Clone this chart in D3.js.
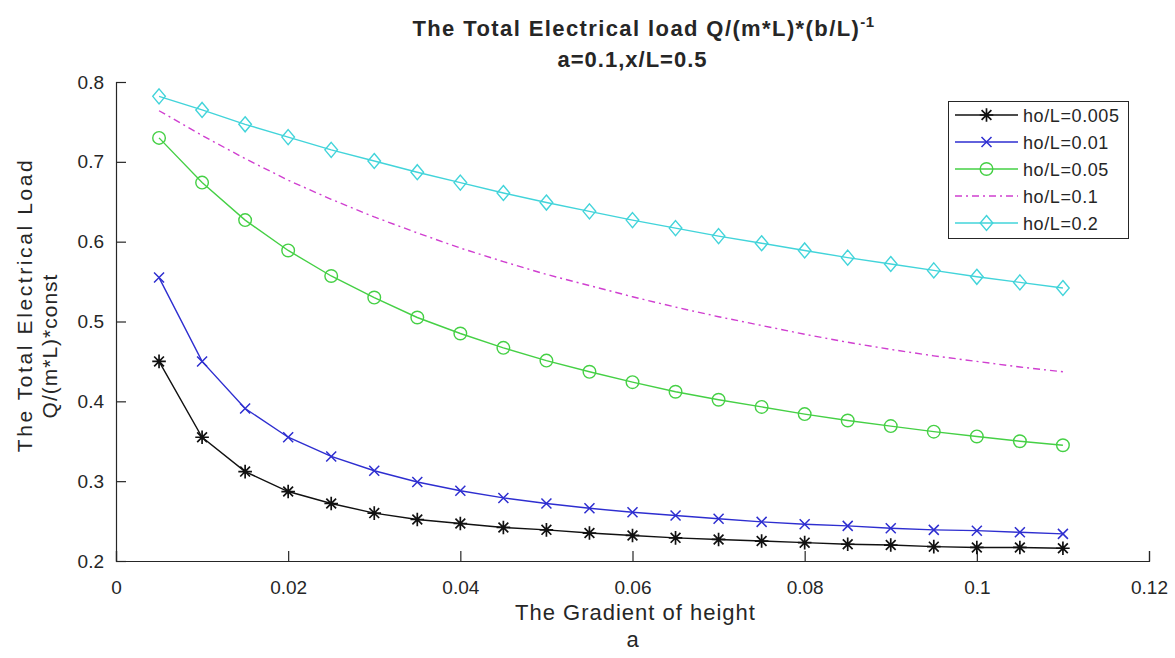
<!DOCTYPE html>
<html>
<head>
<meta charset="utf-8">
<script src="https://cdn.jsdelivr.net/npm/d3@7"></script>
<style>
  html, body { margin: 0; padding: 0; background: #fff; }
  svg text { font-family: "Liberation Sans", Arial, sans-serif; fill: #262626; }
</style>
</head>
<body>
<svg id="chart" width="1175" height="658"></svg>
<script>
// Gradient of height (x values shared by every curve)
const gradient = [0.005, 0.010, 0.015, 0.020, 0.025, 0.030, 0.035, 0.040, 0.045, 0.050, 0.055,
                  0.060, 0.065, 0.070, 0.075, 0.080, 0.085, 0.090, 0.095, 0.100, 0.105, 0.110];

// Total electrical load for each ho/L ratio
const load005 = [0.450, 0.355, 0.312, 0.287, 0.272, 0.260, 0.252, 0.247, 0.242, 0.239, 0.235,
                 0.232, 0.229, 0.227, 0.225, 0.223, 0.221, 0.220, 0.218, 0.217, 0.217, 0.216];
const load01  = [0.555, 0.450, 0.391, 0.355, 0.331, 0.313, 0.299, 0.288, 0.279, 0.272, 0.266,
                 0.261, 0.257, 0.253, 0.249, 0.246, 0.244, 0.241, 0.239, 0.238, 0.236, 0.234];
const load05  = [0.730, 0.674, 0.627, 0.589, 0.557, 0.530, 0.505, 0.485, 0.467, 0.451, 0.437,
                 0.424, 0.412, 0.402, 0.393, 0.384, 0.376, 0.369, 0.362, 0.356, 0.350, 0.345];
const load1   = [0.764, 0.733, 0.704, 0.677, 0.653, 0.631, 0.611, 0.592, 0.575, 0.559, 0.545,
                 0.531, 0.518, 0.506, 0.495, 0.484, 0.474, 0.465, 0.457, 0.450, 0.443, 0.437];
const load2   = [0.782, 0.765, 0.747, 0.731, 0.715, 0.701, 0.687, 0.674, 0.661, 0.649, 0.638,
                 0.627, 0.617, 0.607, 0.598, 0.589, 0.580, 0.572, 0.564, 0.556, 0.549, 0.542];

const seriesNames = ["ho/L=0.005", "ho/L=0.01", "ho/L=0.05", "ho/L=0.1", "ho/L=0.2"];
const xTicks = [0, 0.02, 0.04, 0.06, 0.08, 0.1, 0.12];
const yTicks = [0.2, 0.3, 0.4, 0.5, 0.6, 0.7, 0.8];

const series = [
  { name: seriesNames[0], values: load005, color: "#111111", marker: "star",    dash: null },
  { name: seriesNames[1], values: load01,  color: "#2e2ed0", marker: "cross",   dash: null },
  { name: seriesNames[2], values: load05,  color: "#45d045", marker: "circle",  dash: null },
  { name: seriesNames[3], values: load1,   color: "#d03fd0", marker: null,      dash: "7,4,2,4" },
  { name: seriesNames[4], values: load2,   color: "#42d4da", marker: "diamond", dash: null }
];

const svg = d3.select("#chart");
const plotL = 116, plotR = 1149, plotT = 82, plotB = 561;

const x = d3.scaleLinear().domain([0, 0.12]).range([plotL, plotR]);
const y = d3.scaleLinear().domain([0.2, 0.8]).range([plotB, plotT]);

// Axes (left and bottom only, ticks pointing inward)
const xAxis = d3.axisBottom(x).tickValues(xTicks).tickSize(-10).tickPadding(20)
  .tickFormat(d => d === 0 ? "0" : String(+d.toFixed(2)));
const yAxis = d3.axisLeft(y).tickValues(yTicks).tickSize(-10).tickPadding(12)
  .tickFormat(d => d.toFixed(1));

const gx = svg.append("g").attr("transform", `translate(0,${plotB})`).call(xAxis);
const gy = svg.append("g").attr("transform", `translate(${plotL},0)`).call(yAxis);
[gx, gy].forEach(g => {
  g.select(".domain").attr("stroke", "#262626").attr("stroke-width", 1.2);
  g.selectAll(".tick line").attr("stroke", "#262626").attr("stroke-width", 1.2);
  g.selectAll(".tick text").attr("font-size", 19).attr("fill", "#262626")
    .attr("font-family", "Liberation Sans, Arial, sans-serif");
});

// Marker drawing
function drawMarker(g, type, color) {
  if (type === "star") {
    const r = 6.8, d = r * 0.72;
    g.append("path").attr("d", `M${-r},0H${r}M0,${-r}V${r}M${-d},${-d}L${d},${d}M${-d},${d}L${d},${-d}`)
      .attr("stroke", color).attr("stroke-width", 1.7).attr("fill", "none");
  } else if (type === "cross") {
    const r = 5;
    g.append("path").attr("d", `M${-r},${-r}L${r},${r}M${-r},${r}L${r},${-r}`)
      .attr("stroke", color).attr("stroke-width", 1.5).attr("fill", "none");
  } else if (type === "circle") {
    g.append("circle").attr("r", 6.3).attr("stroke", color).attr("stroke-width", 1.4).attr("fill", "none");
  } else if (type === "diamond") {
    g.append("path").attr("d", "M0,-7.5L6.3,0L0,7.5L-6.3,0Z")
      .attr("stroke", color).attr("stroke-width", 1.4).attr("fill", "none");
  }
}

const line = d3.line().x(d => x(d[0])).y(d => y(d[1]));
const plot = svg.append("g");

series.forEach(s => {
  const pts = gradient.map((g, i) => [g, s.values[i]]);
  plot.append("path").datum(pts).attr("d", line)
    .attr("fill", "none").attr("stroke", s.color).attr("stroke-width", 1.4)
    .attr("stroke-dasharray", s.dash);
  if (s.marker) {
    pts.forEach(p => {
      const m = plot.append("g").attr("transform", `translate(${x(p[0])},${y(p[1])})`);
      drawMarker(m, s.marker, s.color);
    });
  }
});

// Title
const title = svg.append("text").attr("x", (plotL + plotR) / 2 + 11).attr("y", 36)
  .attr("text-anchor", "middle").attr("font-size", 22).attr("font-weight", "bold")
  .attr("letter-spacing", 1.4).attr("fill", "#111");
title.append("tspan").text("The Total Electrical load Q/(m*L)*(b/L)");
title.append("tspan").attr("dy", -9).attr("font-size", 15).attr("letter-spacing", 0.5).text("-1");
svg.append("text").attr("x", (plotL + plotR) / 2).attr("y", 67)
  .attr("text-anchor", "middle").attr("font-size", 22).attr("font-weight", "bold")
  .attr("letter-spacing", 1).attr("fill", "#111")
  .text("a=0.1,x/L=0.5");

// Axis labels
svg.append("text").attr("x", (plotL + plotR) / 2 + 3).attr("y", 620)
  .attr("text-anchor", "middle").attr("font-size", 22).attr("letter-spacing", 1)
  .text("The Gradient of height");
svg.append("text").attr("x", (plotL + plotR) / 2).attr("y", 647)
  .attr("text-anchor", "middle").attr("font-size", 22).text("a");

svg.append("text").attr("transform", "translate(32,305) rotate(-90)")
  .attr("text-anchor", "middle").attr("font-size", 21).attr("letter-spacing", 2.6)
  .text("The Total Electrical Load");
svg.append("text").attr("transform", "translate(57,346) rotate(-90)")
  .attr("text-anchor", "middle").attr("font-size", 21).attr("letter-spacing", 1)
  .text("Q/(m*L)*const");

// Legend
const lg = svg.append("g");
lg.append("rect").attr("x", 948.5).attr("y", 101.5).attr("width", 180).attr("height", 137)
  .attr("fill", "#fff").attr("stroke", "#262626").attr("stroke-width", 1);
const rowY = [115, 142, 169, 196, 223];
series.forEach((s, i) => {
  const ry = rowY[i];
  lg.append("line").attr("x1", 955).attr("x2", 1018).attr("y1", ry).attr("y2", ry)
    .attr("stroke", s.color).attr("stroke-width", 1.4).attr("stroke-dasharray", s.dash);
  if (s.marker) {
    const m = lg.append("g").attr("transform", `translate(986.5,${ry})`);
    drawMarker(m, s.marker, s.color);
  }
  lg.append("text").attr("x", 1023).attr("y", ry + 6.5).attr("font-size", 18)
    .attr("letter-spacing", 0.6).attr("fill", "#111").text(s.name);
});
</script>
</body>
</html>
